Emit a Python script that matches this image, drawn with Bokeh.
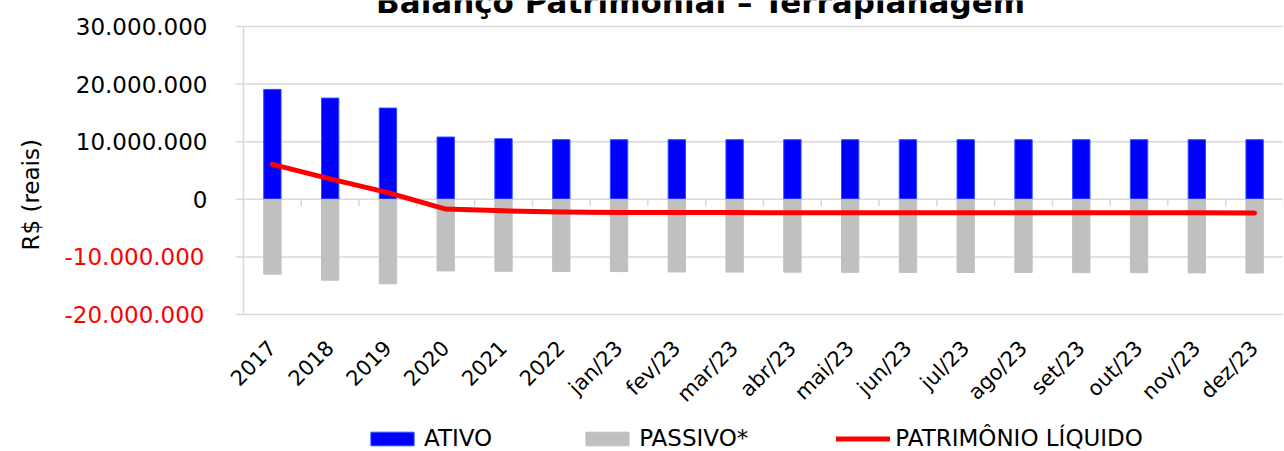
import math
from bokeh.plotting import figure
from bokeh.models import FixedTicker, Legend, LegendItem, Range1d, LinearAxis, Title
from bokeh.core.properties import value
from bokeh.embed import file_html
from bokeh.resources import INLINE

categories = ["2017", "2018", "2019", "2020", "2021", "2022", "jan/23", "fev/23",
              "mar/23", "abr/23", "mai/23", "jun/23", "jul/23", "ago/23", "set/23",
              "out/23", "nov/23", "dez/23"]
ativo = [19.08e6, 17.57e6, 15.84e6, 10.81e6, 10.52e6, 10.36e6, 10.35e6, 10.35e6,
         10.35e6, 10.35e6, 10.35e6, 10.35e6, 10.35e6, 10.35e6, 10.35e6, 10.35e6,
         10.35e6, 10.35e6]
passivo = [-13.00e6, -14.05e6, -14.68e6, -12.43e6, -12.49e6, -12.54e6, -12.55e6,
           -12.62e6, -12.64e6, -12.65e6, -12.68e6, -12.70e6, -12.70e6, -12.72e6,
           -12.74e6, -12.75e6, -12.78e6, -12.80e6]
patrimonio = [6.07e6, 3.55e6, 1.15e6, -1.70e6, -2.00e6, -2.20e6, -2.30e6, -2.31e6,
              -2.31e6, -2.32e6, -2.32e6, -2.33e6, -2.33e6, -2.34e6, -2.34e6,
              -2.35e6, -2.35e6, -2.36e6]
tick_values = [-20000000, -10000000, 0, 10000000, 20000000, 30000000]
tick_labels = ["-20.000.000", "-10.000.000", "0", "10.000.000", "20.000.000", "30.000.000"]
title_text = "Balanço Patrimonial – Terraplanagem"
y_label = "R$ (reais)"
series_names = ["ATIVO", "PASSIVO*", "PATRIMÔNIO LÍQUIDO"]

FONT = "DejaVu Sans"
GRID = "#d9d9d9"

# pixel geometry (style only)
PLOT_PX = 288          # between lowest and highest tick
TOP_PX = 26            # band above (title)
BOTTOM_PX = 137        # band below (category labels, legend)
CAT_PX = 1040          # width taken by the categories
LEFT_PX = 200          # left border (axis labels)
LEAD_PX = 43           # room left of the first category (left part of rotated label)
n = len(categories)
span = tick_values[-1] - tick_values[0]
per_px = span / PLOT_PX
x_per_px = n / CAT_PX
y_top = tick_values[-1] + TOP_PX * per_px
y_bottom = tick_values[0] - BOTTOM_PX * per_px
xs = [i + 0.5 for i in range(n)]           # category centres on the numeric scale

p = figure(x_range=Range1d(-LEAD_PX * x_per_px, n), y_range=Range1d(y_bottom, y_top),
           frame_width=CAT_PX + LEAD_PX, frame_height=PLOT_PX + TOP_PX + BOTTOM_PX,
           min_border_left=LEFT_PX, min_border_right=0, min_border_top=0,
           min_border_bottom=0, output_backend="svg", toolbar_location=None)
p.outline_line_color = None
p.background_fill_color = "white"
p.xgrid.grid_line_color = None
p.ygrid.grid_line_color = None

# gridlines with their outward tick marks, and the vertical axis line
p.segment(x0=[-8 * x_per_px] * len(tick_values), y0=tick_values,
          x1=[n] * len(tick_values), y1=tick_values, line_color=GRID, line_width=1.5)
p.segment(x0=[0], y0=[tick_values[0]], x1=[0], y1=[tick_values[-1]],
          line_color=GRID, line_width=1.5)

# inner y axis: positive labels in black
ya = p.yaxis[0]
ya.ticker = FixedTicker(ticks=tick_values)
ya.major_label_overrides = {v: (lab if v >= 0 else "") for v, lab in zip(tick_values, tick_labels)}
ya.major_label_text_font = FONT
ya.major_label_text_font_size = "23px"
ya.major_label_text_color = "black"
ya.major_label_standoff = -7
ya.major_tick_out = 0
ya.major_tick_in = 0
ya.major_tick_line_color = None
ya.minor_tick_line_color = None
ya.axis_line_color = None

# outer y axis: negative labels in red, pulled back over the inner one
yb = LinearAxis(ticker=FixedTicker(ticks=tick_values))
yb.major_label_overrides = {v: (lab if v < 0 else "") for v, lab in zip(tick_values, tick_labels)}
yb.major_label_text_font = FONT
yb.major_label_text_font_size = "23px"
yb.major_label_text_color = "#ff0000"
yb.major_label_standoff = -132
yb.major_tick_out = 0
yb.major_tick_in = 0
yb.major_tick_line_color = None
yb.minor_tick_line_color = None
yb.axis_line_color = None
p.add_layout(yb, "left")

# y axis title along the plot band
yt = Title(text=y_label, align="left", offset=201, vertical_align="top",
           standoff=32, text_font=FONT, text_font_size="23px",
           text_font_style="normal", text_color="black")
p.add_layout(yt, "left")

# category axis drawn at the lowest tick
xa = p.xaxis[0]
xa.fixed_location = tick_values[0]
xa.ticker = FixedTicker(ticks=xs)
xa.major_label_overrides = {x: c for x, c in zip(xs, categories)}
xa.axis_line_color = None
xa.major_tick_line_color = None
xa.major_tick_out = 0
xa.major_tick_in = 0
xa.minor_tick_line_color = None
xa.major_label_orientation = math.pi / 4
xa.major_label_text_font = FONT
xa.major_label_text_font_size = "21px"
xa.major_label_text_color = "black"
xa.major_label_standoff = 30

# zero-line tick marks between categories
bounds = list(range(n + 1))
p.segment(x0=bounds, y0=[0] * len(bounds), x1=bounds, y1=[-7 * per_px] * len(bounds),
          line_color=GRID, line_width=1.5)

r_at = p.vbar(x=xs, top=ativo, bottom=0, width=0.3,
              fill_color="#0000ff", line_color="#2a4dff", line_width=1)
r_pa = p.vbar(x=xs, top=[0] * n, bottom=passivo, width=0.3,
              fill_color="#c0c0c0", line_color="#c0c0c0", line_width=1)
r_pl = p.line(x=xs, y=patrimonio, line_color="#ff0000", line_width=5,
              line_cap="round", line_join="round")

# title, cut at the top edge as in the reference
p.text(x=[7.91], y=[tick_values[-1] + 25 * per_px], text=[title_text],
       text_align="center", text_baseline="alphabetic",
       text_font=value(FONT), text_font_size="31px", text_font_style="bold",
       text_color="black")

# legend (inside the bottom band)
items = [LegendItem(label=nm, renderers=[r]) for nm, r in zip(series_names, [r_at, r_pa, r_pl])]
lg = Legend(items=items, location=(165, 0), orientation="horizontal",
            glyph_width=54, glyph_height=17, label_standoff=5, spacing=88,
            padding=0, margin=0, border_line_color=None, background_fill_alpha=0,
            label_text_font=FONT, label_text_font_size="23px",
            label_text_color="black")
p.add_layout(lg)

open("out.html", "w").write(file_html(p, INLINE))
